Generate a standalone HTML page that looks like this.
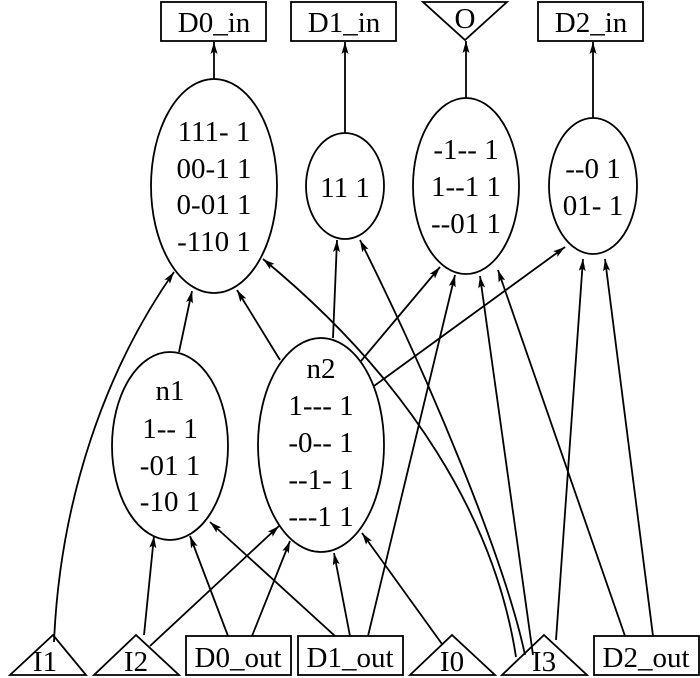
<!DOCTYPE html>
<html><head><meta charset="utf-8"><style>
html,body{margin:0;padding:0;background:#fff;}
svg{display:block;}
text{font-family:"Liberation Serif",serif;font-size:29px;fill:#000;text-anchor:middle;}
</style></head><body>
<svg width="700" height="678" viewBox="0 0 700 678" xmlns="http://www.w3.org/2000/svg">
<defs>
<marker id="a" viewBox="0 0 12 7" refX="12" refY="3.5" markerWidth="12" markerHeight="7" markerUnits="userSpaceOnUse" orient="auto">
<path d="M0,0 L12,3.5 L0,7 L2.5,3.5 z" fill="#000"/>
</marker>
</defs>
<g fill="none" stroke="#000" stroke-width="1.8">
<rect x="161" y="2" width="105" height="39"/>
<rect x="291" y="2" width="105" height="39"/>
<path d="M423,2 L507,2 L465,40 z"/>
<rect x="538" y="2" width="105" height="39"/>
<ellipse cx="214" cy="186" rx="63" ry="107"/>
<ellipse cx="345" cy="186" rx="39" ry="53"/>
<ellipse cx="466" cy="186" rx="53" ry="88"/>
<ellipse cx="593" cy="186" rx="44" ry="68"/>
<ellipse cx="170" cy="446" rx="58" ry="94"/>
<ellipse cx="321" cy="445" rx="63" ry="107"/>
<path d="M10,675 L53,635 L86,675 z"/>
<path d="M94,675 L136,635 L179,675 z"/>
<rect x="186" y="636" width="105" height="39"/>
<rect x="298" y="636" width="105" height="39"/>
<path d="M410,675 L452,635 L495,675 z"/>
<path d="M502,675 L544,635 L587,675 z"/>
<rect x="594" y="636" width="105" height="39"/>
<g marker-end="url(#a)">
<line x1="214" y1="79" x2="214" y2="42"/>
<line x1="345" y1="133" x2="345" y2="42"/>
<line x1="466" y1="98" x2="466" y2="41"/>
<line x1="593" y1="118" x2="593" y2="42"/>
<path d="M54,642 C60,500 105,370 174,272"/>
<line x1="179" y1="352" x2="192" y2="291"/>
<line x1="280" y1="360" x2="237" y2="290"/>
<path d="M516,657 C495,520 410,380 263,259"/>
<path d="M525,655 C505,560 430,380 360,240"/>
<line x1="333" y1="338" x2="337" y2="240"/>
<line x1="361" y1="361" x2="440" y2="267"/>
<line x1="374" y1="386" x2="565" y2="247"/>
<line x1="533" y1="655" x2="480" y2="276"/>
<line x1="368" y1="636" x2="455" y2="275"/>
<line x1="625" y1="636" x2="498" y2="270"/>
<line x1="556" y1="640" x2="583" y2="259"/>
<line x1="653" y1="636" x2="605" y2="259"/>
<line x1="144" y1="635" x2="154" y2="536"/>
<line x1="228" y1="636" x2="190" y2="536"/>
<line x1="335" y1="636" x2="210" y2="522"/>
<line x1="150" y1="646" x2="279" y2="526"/>
<line x1="252" y1="636" x2="290" y2="541"/>
<line x1="350" y1="636" x2="334" y2="553"/>
<line x1="442" y1="644" x2="362" y2="533"/>
</g>
</g>
<text x="214" y="32">D0_in</text>
<text x="344" y="32">D1_in</text>
<text x="465" y="28">O</text>
<text x="591" y="32">D2_in</text>
<text x="214" y="141">111- 1</text>
<text x="214" y="178">00-1 1</text>
<text x="214" y="214">0-01 1</text>
<text x="214" y="251">-110 1</text>
<text x="345" y="197">11 1</text>
<text x="466" y="159">-1-- 1</text>
<text x="466" y="196">1--1 1</text>
<text x="466" y="233">--01 1</text>
<text x="593" y="178">--0 1</text>
<text x="593" y="215">01- 1</text>
<text x="170" y="400">n1</text>
<text x="170" y="438">1-- 1</text>
<text x="170" y="475">-01 1</text>
<text x="170" y="511">-10 1</text>
<text x="321" y="378">n2</text>
<text x="321" y="415">1--- 1</text>
<text x="321" y="452">-0-- 1</text>
<text x="321" y="489">--1- 1</text>
<text x="321" y="526">---1 1</text>
<text x="45" y="671">I1</text>
<text x="136" y="671">I2</text>
<text x="238" y="667">D0_out</text>
<text x="350" y="667">D1_out</text>
<text x="452" y="671">I0</text>
<text x="544" y="671">I3</text>
<text x="646" y="667">D2_out</text>
</svg>
</body></html>
